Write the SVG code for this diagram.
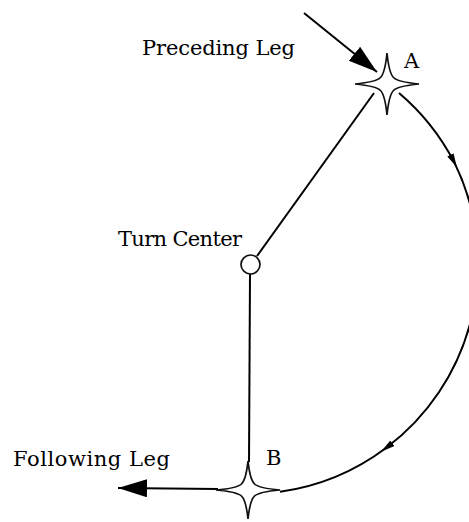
<svg xmlns="http://www.w3.org/2000/svg" width="469" height="522" viewBox="0 0 469 522">
  <style>
    .lbl { font-family: "DejaVu Serif", "Liberation Serif", serif; font-size: 21px; fill: #000; }
    .ln { stroke: #000; fill: none; stroke-width: 2; }
    .star { fill: #fff; stroke: #111; stroke-width: 1.7; stroke-linejoin: miter; }
  </style>
  <defs>
    <marker id="bigHead" markerUnits="userSpaceOnUse" markerWidth="32" markerHeight="20" refX="29" refY="9" orient="auto">
      <path d="M0,0 L29,9 L0,18 Z" fill="#000"/>
    </marker>
    <marker id="smallHead" markerUnits="userSpaceOnUse" markerWidth="16" markerHeight="10" refX="8" refY="3.5" orient="auto">
      <path d="M0,0 L14,3.5 L0,7 Z" fill="#000"/>
    </marker>
    <path id="starShape" d="M0,-31 Q2,-11 6.5,-6.5 Q11,-2 32,0 Q11,2 6.5,6.5 Q2,11 0,31 Q-2,11 -6.5,6.5 Q-11,2 -32,0 Q-11,-2 -6.5,-6.5 Q-2,-11 0,-31 Z"/>
  </defs>

  <rect width="469" height="522" fill="#fff"/>

  <g id="connectors">
    <line class="ln" x1="304" y1="13" x2="377" y2="72" marker-end="url(#bigHead)"/>
    <line class="ln" x1="257" y1="256" x2="374" y2="93"/>
    <line class="ln" x1="250" y1="274" x2="249" y2="462" stroke-width="1.8"/>
    <line class="ln" x1="218" y1="489" x2="118" y2="488" marker-end="url(#bigHead)"/>
    <path class="ln" d="M399,93 A230,230 0 0 1 454.1,162" marker-end="url(#smallHead)"/>
    <path class="ln" d="M454.1,162 A230,230 0 0 1 386,448" marker-end="url(#smallHead)"/>
    <path class="ln" d="M386,448 A230,230 0 0 1 280,491.8"/>
  </g>

  <g id="turn-center">
    <circle cx="250.5" cy="264.5" r="9.5" fill="#fff" stroke="#111" stroke-width="1.7"/>
    <text class="lbl" x="118" y="246" textLength="124">Turn Center</text>
  </g>

  <g id="point-A">
    <use href="#starShape" class="star" transform="translate(387,84)"/>
    <text class="lbl" x="404" y="68">A</text>
  </g>

  <g id="point-B">
    <use href="#starShape" class="star" transform="translate(248,490) scale(1,0.93)"/>
    <text class="lbl" x="266" y="465">B</text>
  </g>

  <g id="preceding-leg">
    <text class="lbl" x="142" y="55" textLength="153">Preceding Leg</text>
  </g>

  <g id="following-leg">
    <text class="lbl" x="13" y="466" textLength="157">Following Leg</text>
  </g>
</svg>
